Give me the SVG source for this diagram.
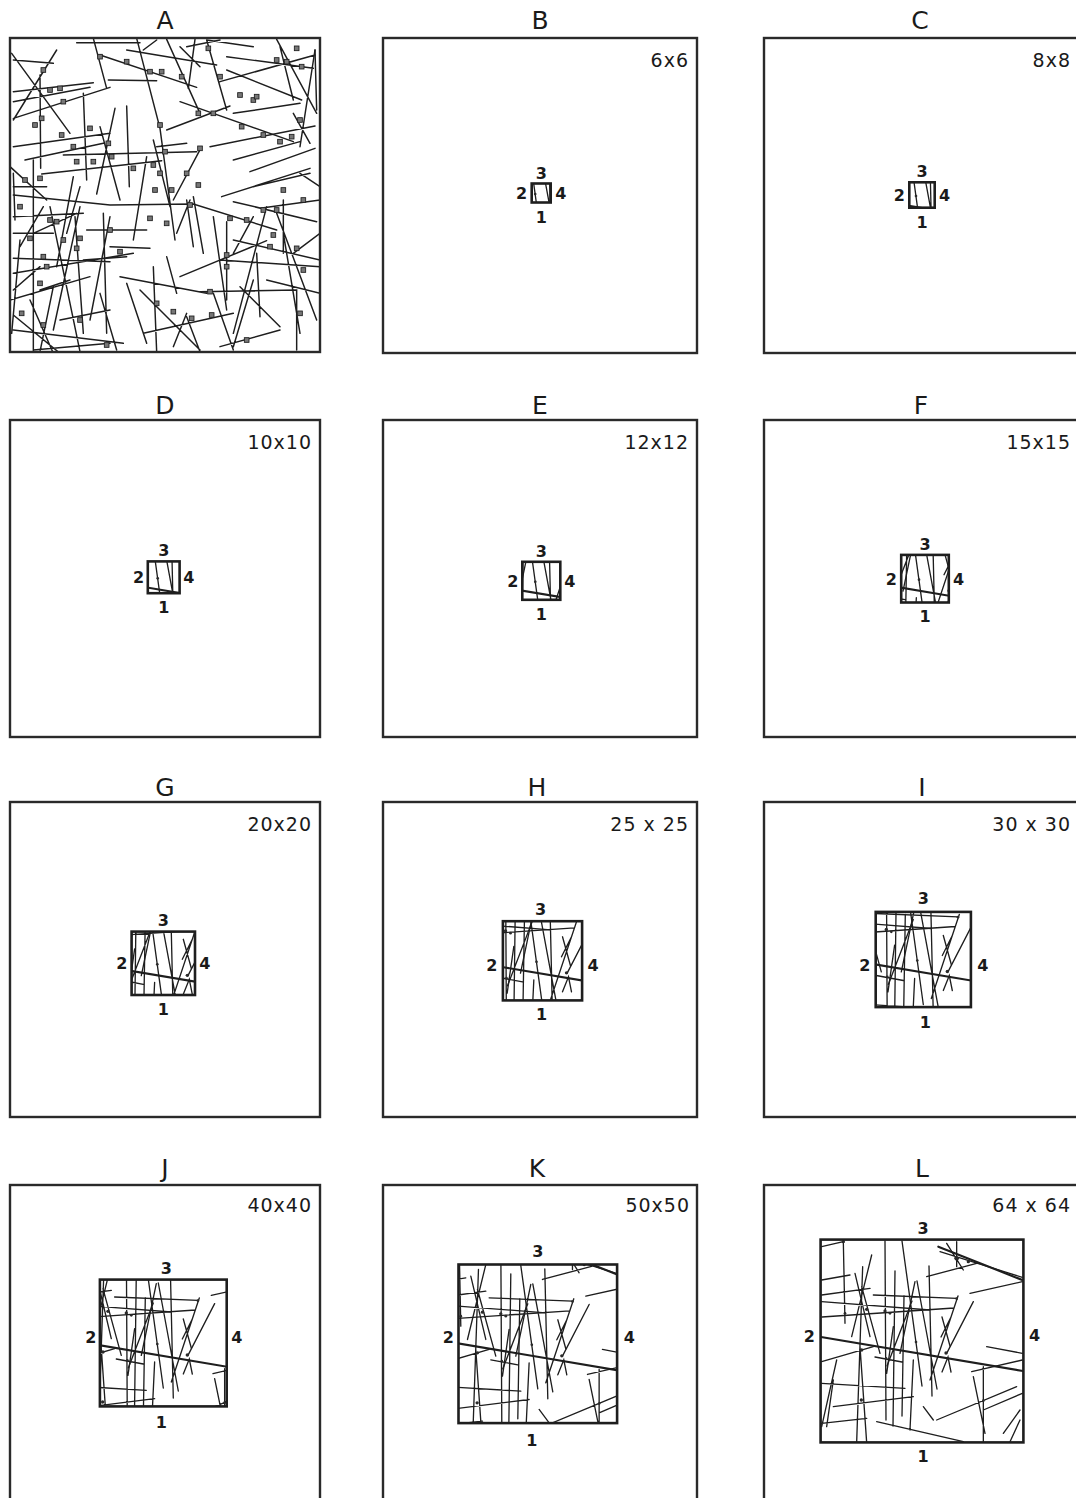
<svg xmlns="http://www.w3.org/2000/svg" xmlns:xlink="http://www.w3.org/1999/xlink" width="1076" height="1498" viewBox="0 0 1076 1498">
<style>
.bg{fill:#fff}
.fr{fill:none;stroke:#2a2a2a;stroke-width:2.4}
.sq{fill:none;stroke:#1e1e1e;stroke-width:2.6}
.wl{fill:none;stroke:#1e1e1e;stroke-width:4;stroke-linecap:round}
.tk{stroke-width:6.4}
.al{fill:none;stroke:#1e1e1e;stroke-width:4.4;stroke-linecap:round}
.bl{fill:#777;stroke:#1e1e1e;stroke-width:2.6}
.dt{fill:#2a2a2a}
.ttl{font-family:"DejaVu Sans","Liberation Sans",sans-serif;font-size:25px;fill:#1a1a1a;text-anchor:middle}
.sz{font-family:"DejaVu Sans","Liberation Sans",sans-serif;font-size:19px;fill:#1a1a1a;text-anchor:end;letter-spacing:1px}
.lb{font-family:"DejaVu Sans","Liberation Sans",sans-serif;font-size:16px;font-weight:bold;fill:#1a1a1a}
.mid{text-anchor:middle}.en{text-anchor:end}.st{text-anchor:start}
</style>
<defs>
<g id="world" transform="translate(-132,-161) scale(0.333333)">
<path class="wl tk" d="M93,471L699,573"/>
<path class="wl" d="M336,183L396,618M417,258L426,648M342,348L336,708M315,273L309,738M291,558L366,363M456,411L480,498M483,411L453,471M96,411L492,384M255,531L336,546M504,348L420,600M456,576L474,531L483,576M381,303L441,627"/>
<path class="wl" d="M95,200L160,185M160,185L165,430M95,300L180,285M95,345L240,325M95,365L420,390M250,345L500,355M410,290L560,250M450,215L697,292M470,190L520,270M500,185L500,260M540,340L697,305M245,225L185,470M285,183L288,720M215,320L270,520M195,280L240,470M375,305L330,520M370,540L360,750M550,365L470,520M590,500L697,520M545,575L697,540M550,590L585,760M580,560L580,787M440,720L680,620M260,725L520,785M400,680L430,720M95,740L140,540M130,600L110,740M210,500L230,787M218,260L200,787M640,760L690,690M660,785L690,720M580,690L697,640M310,440L290,580M95,545L250,500M95,610L345,625M130,680L370,650M95,730L230,715"/>
<path class="wl tk" d="M445,200L697,300"/>
<g class="dt"><circle cx="160" cy="185" r="5"/><circle cx="165" cy="400" r="4"/><circle cx="230" cy="388" r="5"/><circle cx="285" cy="393" r="5"/><circle cx="300" cy="400" r="4"/><circle cx="215" cy="510" r="5"/><circle cx="468" cy="519" r="5"/><circle cx="500" cy="235" r="7"/><circle cx="535" cy="245" r="5"/><circle cx="500" cy="356" r="4"/><circle cx="214" cy="660" r="5"/><circle cx="580" cy="662" r="4"/><circle cx="288" cy="535" r="4"/><circle cx="378" cy="486" r="4"/></g>
</g>
<clipPath id="cA"><rect x="10" y="38" width="310" height="314"/></clipPath>
<clipPath id="cB"><rect x="-9.5" y="-9.5" width="19" height="19"/></clipPath>
<clipPath id="cC"><rect x="-12.7" y="-12.7" width="25.4" height="25.4"/></clipPath>
<clipPath id="cD"><rect x="-15.9" y="-15.9" width="31.8" height="31.8"/></clipPath>
<clipPath id="cE"><rect x="-19" y="-19" width="38" height="38"/></clipPath>
<clipPath id="cF"><rect x="-23.8" y="-23.8" width="47.6" height="47.6"/></clipPath>
<clipPath id="cG"><rect x="-31.7" y="-31.7" width="63.4" height="63.4"/></clipPath>
<clipPath id="cH"><rect x="-39.6" y="-39.6" width="79.2" height="79.2"/></clipPath>
<clipPath id="cI"><rect x="-47.6" y="-47.6" width="95.2" height="95.2"/></clipPath>
<clipPath id="cJ"><rect x="-63.4" y="-63.4" width="126.8" height="126.8"/></clipPath>
<clipPath id="cK"><rect x="-79.3" y="-79.3" width="158.6" height="158.6"/></clipPath>
<clipPath id="cL"><rect x="-101.4" y="-101.4" width="202.8" height="202.8"/></clipPath>
<rect id="blob" class="bl" x="-7" y="-7" width="14" height="14"/>
</defs>
<rect class="bg" x="0" y="0" width="1076" height="1498"/>

<!-- Panel A -->
<g id="panelA">
<text class="ttl" x="165" y="29">A</text>
<g clip-path="url(#cA)">
<g transform="scale(0.333333)">
<path class="al" d="M230,128L420,128M280,115L320,265M380,150L650,195M35,160L210,400M170,150L40,360M120,225L122,505M40,275L280,248M40,305L270,262M40,355L330,262M410,115L480,385L525,720M620,120L680,330M585,118L565,265M680,170L940,205M660,245L945,165M680,210L905,300M830,118L950,340M945,150L900,440M500,390L690,318M630,440L945,378M700,480L900,425M750,515L945,445M665,590L930,505M40,440L330,400M75,480L310,430M125,522L485,482M190,465L590,455M380,318L388,560M345,325L290,582M300,380L360,600M325,240L470,242M40,650L250,640M700,605L950,665M780,625L960,600M40,775L330,785M40,820L400,760M30,900L270,830M360,830L620,880M420,870L600,1050M540,830L800,722M600,875L890,870L890,1050M430,1000L700,940M640,880L700,1050M40,990L370,1030M100,1050L330,1030M180,1060L40,945M660,1040L840,990M100,480L100,1055M150,620L240,1055M240,620L160,990M440,470L400,720M460,420L510,620M520,600L605,440M570,600L530,700M580,590L610,760M640,650L680,930M680,665L680,900M800,620L700,1000M830,640L950,960M850,600L850,760M770,760L780,950M460,800L470,1055M500,770L530,880M310,640L320,1000M330,650L270,960M225,650L250,1000M60,720L35,1000M220,530L170,800M40,520L45,660M30,500L140,600M100,700L230,640M40,700L160,700M120,870L210,840M160,860L120,1055M260,690L440,690M330,740L450,745M700,720L960,780M660,780L960,800M850,700L900,1000M720,860L840,980M90,900L160,1060M560,140L660,120M600,200L540,140M760,560L930,520M250,280L260,540M700,340L900,310M880,340L930,430M580,740L560,600M380,850L440,1030M300,880L350,1050M560,950L600,1055M40,180L160,190M180,960L330,930M800,840L960,880M40,560L140,560M430,150L470,120M840,140L880,300M470,440L560,430M200,700L240,560M60,740L130,620M700,760L760,650M760,840L700,1040M250,780L380,770M900,520L960,560M880,760L960,700M520,1040L560,940M40,870L120,800M620,120L760,140"/>
<path class="al tk" d="M300,165L590,262M500,118L600,340M540,305L880,425M40,585L330,615L580,612L830,690M945,150L950,330"/>
<g>
<use xlink:href="#blob" x="300" y="170"/><use xlink:href="#blob" x="380" y="185"/><use xlink:href="#blob" x="450" y="215"/><use xlink:href="#blob" x="485" y="215"/><use xlink:href="#blob" x="545" y="230"/><use xlink:href="#blob" x="130" y="210"/><use xlink:href="#blob" x="150" y="270"/><use xlink:href="#blob" x="180" y="265"/><use xlink:href="#blob" x="190" y="305"/><use xlink:href="#blob" x="125" y="355"/><use xlink:href="#blob" x="105" y="375"/><use xlink:href="#blob" x="185" y="405"/><use xlink:href="#blob" x="270" y="385"/><use xlink:href="#blob" x="220" y="440"/><use xlink:href="#blob" x="325" y="430"/><use xlink:href="#blob" x="335" y="470"/><use xlink:href="#blob" x="400" y="505"/><use xlink:href="#blob" x="460" y="495"/><use xlink:href="#blob" x="480" y="520"/><use xlink:href="#blob" x="515" y="570"/><use xlink:href="#blob" x="560" y="520"/><use xlink:href="#blob" x="600" y="445"/><use xlink:href="#blob" x="595" y="555"/><use xlink:href="#blob" x="570" y="615"/><use xlink:href="#blob" x="690" y="655"/><use xlink:href="#blob" x="740" y="660"/><use xlink:href="#blob" x="790" y="630"/><use xlink:href="#blob" x="830" y="630"/><use xlink:href="#blob" x="820" y="705"/><use xlink:href="#blob" x="810" y="740"/><use xlink:href="#blob" x="890" y="745"/><use xlink:href="#blob" x="680" y="765"/><use xlink:href="#blob" x="680" y="800"/><use xlink:href="#blob" x="630" y="875"/><use xlink:href="#blob" x="575" y="955"/><use xlink:href="#blob" x="635" y="945"/><use xlink:href="#blob" x="520" y="935"/><use xlink:href="#blob" x="470" y="910"/><use xlink:href="#blob" x="360" y="755"/><use xlink:href="#blob" x="330" y="690"/><use xlink:href="#blob" x="240" y="715"/><use xlink:href="#blob" x="230" y="745"/><use xlink:href="#blob" x="190" y="720"/><use xlink:href="#blob" x="130" y="770"/><use xlink:href="#blob" x="140" y="800"/><use xlink:href="#blob" x="120" y="850"/><use xlink:href="#blob" x="65" y="940"/><use xlink:href="#blob" x="130" y="975"/><use xlink:href="#blob" x="240" y="960"/><use xlink:href="#blob" x="320" y="1035"/><use xlink:href="#blob" x="740" y="1020"/><use xlink:href="#blob" x="900" y="940"/><use xlink:href="#blob" x="910" y="810"/><use xlink:href="#blob" x="875" y="410"/><use xlink:href="#blob" x="840" y="425"/><use xlink:href="#blob" x="790" y="405"/><use xlink:href="#blob" x="725" y="380"/><use xlink:href="#blob" x="760" y="300"/><use xlink:href="#blob" x="720" y="285"/><use xlink:href="#blob" x="830" y="180"/><use xlink:href="#blob" x="860" y="185"/><use xlink:href="#blob" x="905" y="200"/><use xlink:href="#blob" x="890" y="145"/><use xlink:href="#blob" x="625" y="145"/><use xlink:href="#blob" x="660" y="230"/><use xlink:href="#blob" x="640" y="340"/><use xlink:href="#blob" x="595" y="340"/><use xlink:href="#blob" x="230" y="485"/><use xlink:href="#blob" x="280" y="485"/><use xlink:href="#blob" x="120" y="535"/><use xlink:href="#blob" x="75" y="540"/><use xlink:href="#blob" x="60" y="620"/><use xlink:href="#blob" x="150" y="660"/><use xlink:href="#blob" x="170" y="665"/><use xlink:href="#blob" x="90" y="715"/><use xlink:href="#blob" x="480" y="375"/><use xlink:href="#blob" x="495" y="455"/><use xlink:href="#blob" x="465" y="570"/><use xlink:href="#blob" x="450" y="655"/><use xlink:href="#blob" x="500" y="670"/><use xlink:href="#blob" x="770" y="290"/><use xlink:href="#blob" x="900" y="360"/><use xlink:href="#blob" x="910" y="600"/><use xlink:href="#blob" x="850" y="570"/>
</g>
</g>
</g>
<rect class="fr" x="10" y="38" width="310" height="314"/>
</g>

<!-- Panel B -->
<g id="panelB">
<text class="ttl" x="540" y="29">B</text>
<rect class="fr" x="383" y="38" width="314" height="315"/>
<text class="sz" x="689" y="67">6x6</text>
<g transform="translate(541.2,193)">
<g clip-path="url(#cB)"><use xlink:href="#world"/></g>
<rect class="sq" x="-9.5" y="-9.5" width="19" height="19"/>
<text class="lb mid" x="0" y="-14.5">3</text><text class="lb en" x="-14" y="6">2</text><text class="lb st" x="14" y="6">4</text><text class="lb mid" x="0" y="29.5">1</text>
</g>
</g>

<!-- Panel C -->
<g id="panelC">
<text class="ttl" x="920" y="29">C</text>
<rect class="fr" x="764" y="38" width="330" height="315"/>
<text class="sz" x="1071" y="67">8x8</text>
<g transform="translate(922,195)">
<g clip-path="url(#cC)"><use xlink:href="#world"/></g>
<rect class="sq" x="-12.7" y="-12.7" width="25.4" height="25.4"/>
<text class="lb mid" x="0" y="-17.7">3</text><text class="lb en" x="-17" y="6">2</text><text class="lb st" x="17" y="6">4</text><text class="lb mid" x="0" y="32.7">1</text>
</g>
</g>

<!-- Panel D -->
<g id="panelD">
<text class="ttl" x="165" y="414">D</text>
<rect class="fr" x="10" y="420" width="310" height="317"/>
<text class="sz" x="312" y="449">10x10</text>
<g transform="translate(163.7,577.3)">
<g clip-path="url(#cD)"><use xlink:href="#world"/></g>
<rect class="sq" x="-15.9" y="-15.9" width="31.8" height="31.8"/>
<text class="lb mid" x="0" y="-20.9">3</text><text class="lb en" x="-19.5" y="6">2</text><text class="lb st" x="19.5" y="6">4</text><text class="lb mid" x="0" y="35.9">1</text>
</g>
</g>

<!-- Panel E -->
<g id="panelE">
<text class="ttl" x="540" y="414">E</text>
<rect class="fr" x="383" y="420" width="314" height="317"/>
<text class="sz" x="689" y="449">12x12</text>
<g transform="translate(541.3,580.8)">
<g clip-path="url(#cE)"><use xlink:href="#world"/></g>
<rect class="sq" x="-19" y="-19" width="38" height="38"/>
<text class="lb mid" x="0" y="-24">3</text><text class="lb en" x="-23" y="6">2</text><text class="lb st" x="23" y="6">4</text><text class="lb mid" x="0" y="39">1</text>
</g>
</g>

<!-- Panel F -->
<g id="panelF">
<text class="ttl" x="921" y="414">F</text>
<rect class="fr" x="764" y="420" width="330" height="317"/>
<text class="sz" x="1071" y="449">15x15</text>
<g transform="translate(925,578.7)">
<g clip-path="url(#cF)"><use xlink:href="#world"/></g>
<rect class="sq" x="-23.8" y="-23.8" width="47.6" height="47.6"/>
<text class="lb mid" x="0" y="-28.8">3</text><text class="lb en" x="-28" y="6">2</text><text class="lb st" x="28" y="6">4</text><text class="lb mid" x="0" y="43.8">1</text>
</g>
</g>

<!-- Panel G -->
<g id="panelG">
<text class="ttl" x="165" y="796">G</text>
<rect class="fr" x="10" y="802" width="310" height="315"/>
<text class="sz" x="312" y="831">20x20</text>
<g transform="translate(163.3,963.3)">
<g clip-path="url(#cG)"><use xlink:href="#world"/></g>
<rect class="sq" x="-31.7" y="-31.7" width="63.4" height="63.4"/>
<text class="lb mid" x="0" y="-37">3</text><text class="lb en" x="-36" y="6">2</text><text class="lb st" x="36" y="6">4</text><text class="lb mid" x="0" y="52">1</text>
</g>
</g>

<!-- Panel H -->
<g id="panelH">
<text class="ttl" x="537" y="796">H</text>
<rect class="fr" x="383" y="802" width="314" height="315"/>
<text class="sz" x="689" y="831">25 x 25</text>
<g transform="translate(542.5,960.8)">
<g clip-path="url(#cH)"><use xlink:href="#world"/></g>
<rect class="sq" x="-39.6" y="-39.6" width="79.2" height="79.2"/>
<text class="lb mid" x="-2" y="-45.5">3</text><text class="lb en" x="-45" y="10">2</text><text class="lb st" x="45" y="10">4</text><text class="lb mid" x="-1" y="59">1</text>
</g>
</g>

<!-- Panel I -->
<g id="panelI">
<text class="ttl" x="922" y="796">I</text>
<rect class="fr" x="764" y="802" width="330" height="315"/>
<text class="sz" x="1071" y="831">30 x 30</text>
<g transform="translate(923.3,959.5)">
<g clip-path="url(#cI)"><use xlink:href="#world"/></g>
<rect class="sq" x="-47.6" y="-47.6" width="95.2" height="95.2"/>
<text class="lb mid" x="0" y="-56">3</text><text class="lb en" x="-53" y="11">2</text><text class="lb st" x="54" y="11">4</text><text class="lb mid" x="2" y="68">1</text>
</g>
</g>

<!-- Panel J -->
<g id="panelJ">
<text class="ttl" x="165" y="1177">J</text>
<rect class="fr" x="10" y="1185" width="310" height="330"/>
<text class="sz" x="312" y="1212">40x40</text>
<g transform="translate(163.3,1343)">
<g clip-path="url(#cJ)"><use xlink:href="#world"/></g>
<rect class="sq" x="-63.4" y="-63.4" width="126.8" height="126.8"/>
<text class="lb mid" x="3" y="-69">3</text><text class="lb en" x="-67" y="0">2</text><text class="lb st" x="68" y="0">4</text><text class="lb mid" x="-2" y="85">1</text>
</g>
</g>

<!-- Panel K -->
<g id="panelK">
<text class="ttl" x="537" y="1177">K</text>
<rect class="fr" x="383" y="1185" width="314" height="330"/>
<text class="sz" x="690" y="1212">50x50</text>
<g transform="translate(537.8,1343.8)">
<g clip-path="url(#cK)"><use xlink:href="#world"/></g>
<rect class="sq" x="-79.3" y="-79.3" width="158.6" height="158.6"/>
<text class="lb mid" x="0" y="-87">3</text><text class="lb en" x="-84" y="-1">2</text><text class="lb st" x="86" y="-1">4</text><text class="lb mid" x="-6" y="102">1</text>
</g>
</g>

<!-- Panel L -->
<g id="panelL">
<text class="ttl" x="922" y="1177">L</text>
<rect class="fr" x="764" y="1185" width="330" height="330"/>
<text class="sz" x="1071" y="1212">64 x 64</text>
<g transform="translate(922,1341)">
<g clip-path="url(#cL)"><use xlink:href="#world"/></g>
<rect class="sq" x="-101.4" y="-101.4" width="202.8" height="202.8"/>
<text class="lb mid" x="1" y="-107">3</text><text class="lb en" x="-107" y="1">2</text><text class="lb st" x="107" y="0">4</text><text class="lb mid" x="1" y="121">1</text>
</g>
</g>
</svg>
